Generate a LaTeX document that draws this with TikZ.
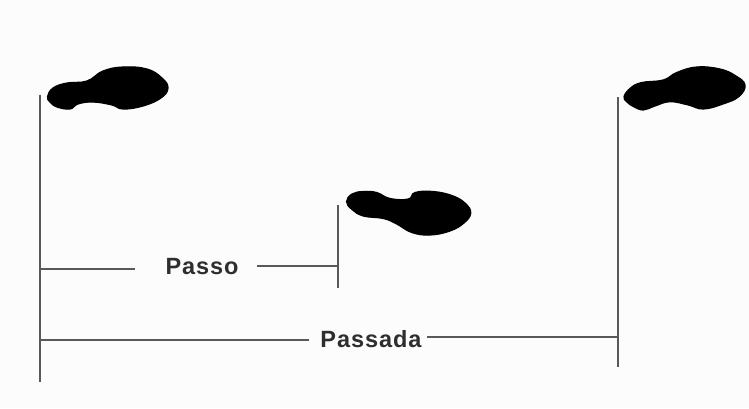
\documentclass[tikz,border=0pt]{standalone}
\usepackage{fontspec}
\setmainfont{Liberation Sans}[LetterSpace=4]

\tikzset{
  pegada/.style={fill=black, draw=black, line width=1.2pt},
  guia/.style={draw=black!65, line width=1.9pt},
  rotulo/.style={font=\fontsize{23.5}{25}\selectfont\bfseries, text=black!82, inner sep=0pt}
}

\begin{document}
\begin{tikzpicture}[x=1pt, y=-1pt]

% margens
\useasboundingbox (0,0) rectangle (749,408);
\fill[black!1] (0,0) rectangle (749,408);

% pegada esquerda
\filldraw[pegada] plot[smooth cycle, tension=0.7] coordinates {
  (47.5,96.7) (53,88) (67,83) (87,81) (103,71) (123,67) (147,69) (162,78) (168,88)
  (161,98) (143,106) (123,109) (112,105) (93,102) (78,104) (70,109) (57,107) (50,102)};

% pegada do meio
\filldraw[pegada] plot[smooth cycle, tension=0.7] coordinates {
  (346.5,201.7) (352,194) (363.3,191.5) (376.7,192.5) (390,198.5) (408.3,199)
  (415,192.5) (433.3,191.5) (453.3,196) (466,204) (470.7,213.3) (464,223)
  (450,231) (430,235) (411.7,232.5) (396.7,224) (383.3,218.5) (363.3,216) (352,209.5)};

% pegada direita
\filldraw[pegada] plot[smooth cycle, tension=0.7] coordinates {
  (624,96.7) (630.5,88) (641.7,82.5) (663.3,80) (676.7,72.5) (696.7,67) (720,69)
  (736,76) (745,85) (739,96.5) (723,104) (703.3,109) (688.3,105) (670,101.7)
  (655,106) (643.3,110) (633.3,106.5) (627,102)};

% verticais
\coordinate (A1) at (40,95);
\coordinate (A2) at (40,382);
\coordinate (B1) at (338,205);
\coordinate (B2) at (338,288);
\coordinate (C1) at (618,97);
\coordinate (C2) at (618,367);
\draw[guia] (A1) -- (A2);
\draw[guia] (B1) -- (B2);
\draw[guia] (C1) -- (C2);

% rotulos
\node[rotulo] (passo) at (202,267) {Passo};
\node[rotulo] (passada) at (371,339) {Passada};

% passo
\coordinate (P1) at (40,269);
\coordinate (P2) at (135,269);
\coordinate (P3) at (257,266);
\coordinate (P4) at (338,266);
\draw[guia] (P1) -- (P2);
\draw[guia] (P3) -- (P4);

% passada
\coordinate (Q1) at (40,340);
\coordinate (Q2) at (309,340);
\coordinate (Q3) at (427,337);
\coordinate (Q4) at (618,337);
\draw[guia] (Q1) -- (Q2);
\draw[guia] (Q3) -- (Q4);

\end{tikzpicture}
\end{document}
